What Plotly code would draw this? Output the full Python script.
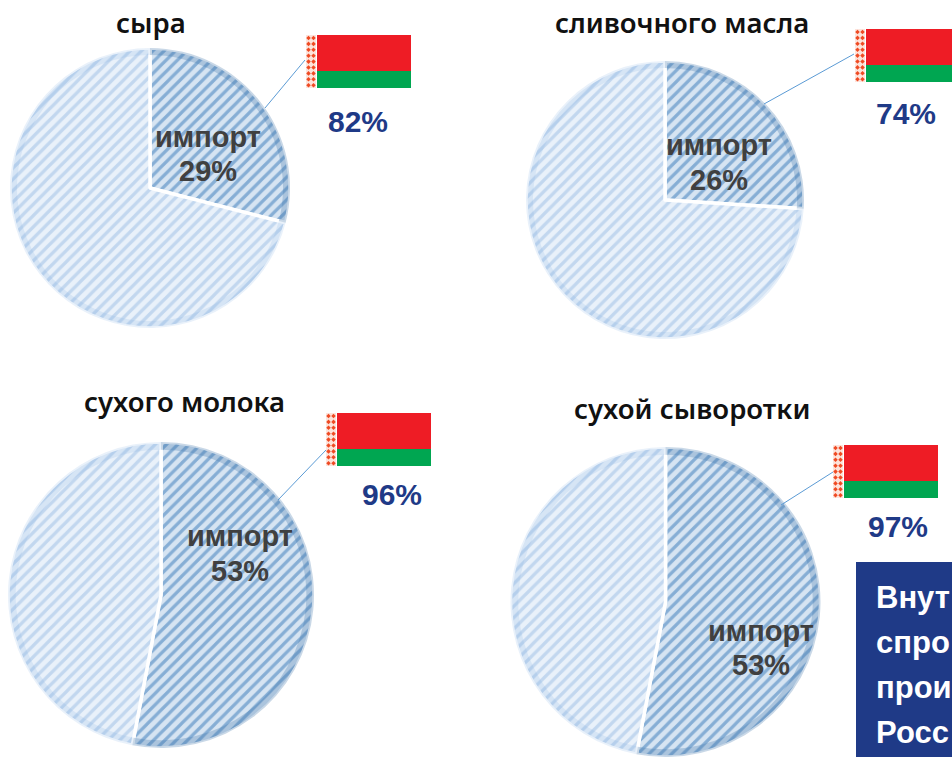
import plotly.graph_objects as go

titles = ["сыра", "сливочного масла", "сухого молока", "сухой сыворотки"]
import_share = [29, 26, 53, 53]
other_share = [71, 74, 47, 47]
belarus_share = [82, 74, 96, 97]
box_lines = ["Внут", "спро", "прои", "Росс"]

W, H = 952, 757
# pie boxes in pixels: left, right, top, bottom
pie_boxes = [(10, 290, 48, 328), (526, 804, 61, 339), (8, 314, 442, 748), (509, 822, 447, 757)]
title_pos = [(151, 22), (682, 22), (184, 401), (692, 408)]
label_pos = [(208, 137, 171), (719, 145, 180), (240, 536, 571), (761, 631, 665)]
flag_pos = [(306, 35), (855, 29), (326, 413), (833, 445)]
pct_pos = [(358, 121), (906, 113), (392, 494), (898, 526)]
lead_lines = [((265, 108), (305, 60)), ((764, 104), (854, 54)), ((278, 500), (326, 450)), ((781, 505), (833, 472))]

BLUE = "#1f3a87"
fig = go.Figure()

for i in range(4):
    l, r, t, b = pie_boxes[i]
    dom = dict(x=[l / W, r / W], y=[1 - b / H, 1 - t / H])
    fig.add_trace(go.Pie(
        values=[import_share[i], other_share[i]],
        labels=["импорт", "прочее"],
        sort=False, direction="clockwise", rotation=0,
        textinfo="none", hoverinfo="label+percent", showlegend=False,
        domain=dom,
        marker=dict(
            colors=["#d6e4f2", "#e9f1fa"],
            line=dict(color="white", width=3.5),
            pattern=dict(shape="/", fgcolor=["#86aed5", "#c2d7ef"],
                         bgcolor=["#d6e4f2", "#e9f1fa"], size=8, solidity=0.4),
        ),
    ))
    # darker rim of each slice
    fig.add_trace(go.Pie(
        values=[import_share[i], other_share[i]],
        labels=["импорт", "прочее"],
        sort=False, direction="clockwise", rotation=0, hole=0.95,
        textinfo="none", hoverinfo="skip", showlegend=False,
        domain=dom,
        marker=dict(colors=["rgba(60,115,170,0.28)", "rgba(120,170,225,0.16)"],
                    line=dict(color="rgba(255,255,255,0)", width=0)),
    ))

shapes, annos = [], []


def rect(x0, y0, x1, y1, color, layer="above"):
    shapes.append(dict(type="rect", xref="x", yref="y", x0=x0, y0=y0, x1=x1, y1=y1,
                       fillcolor=color, line=dict(width=0), layer=layer))


orn_x, orn_y = [], []
for i in range(4):
    fx, fy = flag_pos[i]
    rect(fx + 11, fy, fx + 105, fy + 36, "#ee1c25")
    rect(fx + 11, fy + 36, fx + 105, fy + 53, "#00a651")
    rect(fx, fy, fx + 10, fy + 53, "#fde3db", layer="below")
    for k in range(9):
        orn_x += [fx + 2.5, fx + 7.5]
        orn_y += [fy + 3 + k * 5.9] * 2
    (x0, y0), (x1, y1) = lead_lines[i]
    shapes.append(dict(type="line", xref="x", yref="y", x0=x0, y0=y0, x1=x1, y1=y1,
                       line=dict(color="#5b9bd5", width=1), layer="above"))
    annos.append(dict(x=title_pos[i][0], y=title_pos[i][1], text=titles[i], showarrow=False,
                      font=dict(size=27.5, color="#111111", family="Noto Sans", weight=600),
                      xref="x", yref="y"))
    lx, ly1, ly2 = label_pos[i]
    annos.append(dict(x=lx, y=ly1, text="<b>импорт</b>", showarrow=False,
                      font=dict(size=29, color="#404040", family="Liberation Sans"),
                      xref="x", yref="y"))
    annos.append(dict(x=lx, y=ly2, text=f"<b>{import_share[i]}%</b>", showarrow=False,
                      font=dict(size=29, color="#404040", family="Liberation Sans"),
                      xref="x", yref="y"))
    annos.append(dict(x=pct_pos[i][0], y=pct_pos[i][1], text=f"<b>{belarus_share[i]}%</b>",
                      showarrow=False, font=dict(size=30, color=BLUE, family="Liberation Sans"),
                      xref="x", yref="y"))

rect(856, 562, 952, 757, BLUE)
for k, line in enumerate(box_lines):
    annos.append(dict(x=874, y=597 + k * 45.3, text=f"<b>{line}</b>", showarrow=False, xanchor="left",
                      font=dict(size=31, color="white", family="Liberation Sans"),
                      xref="x", yref="y"))

fig.add_trace(go.Scatter(x=orn_x, y=orn_y, mode="markers", hoverinfo="skip", showlegend=False,
                         marker=dict(symbol="diamond", size=3.5, color="#ef4a23")))

fig.update_layout(
    width=W, height=H, margin=dict(l=0, r=0, t=0, b=0),
    paper_bgcolor="white", plot_bgcolor="rgba(0,0,0,0)",
    xaxis=dict(range=[0, W], visible=False, fixedrange=True),
    yaxis=dict(range=[H, 0], visible=False, fixedrange=True),
    shapes=shapes, annotations=annos,
)
fig.write_html("out.html", config=dict(displayModeBar=False),
               post_script="document.body.style.margin='0';document.body.style.overflow='hidden';")
